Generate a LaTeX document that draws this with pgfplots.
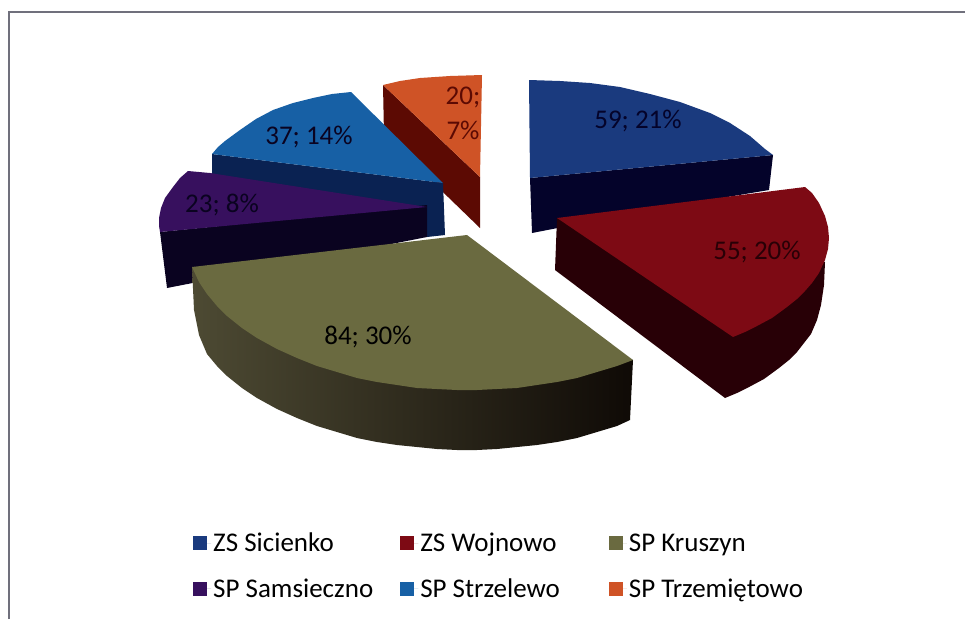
\documentclass[border=0pt]{standalone}
\usepackage{pgfplots}
\pgfplotsset{compat=1.18}
\usepackage{fontspec}
\setmainfont{Carlito}
\definecolor{cA}{HTML}{1A3A7E}\definecolor{sA}{HTML}{04032A}
\definecolor{cB}{HTML}{7D0A14}\definecolor{sB}{HTML}{280006}
\definecolor{cC}{HTML}{6A6A40}\definecolor{sCl}{HTML}{4D4A33}\definecolor{sCm}{HTML}{3D3626}\definecolor{sCr}{HTML}{0F0A06}
\definecolor{cD}{HTML}{37105E}\definecolor{sD}{HTML}{0A0320}
\definecolor{cE}{HTML}{1760A5}\definecolor{sE}{HTML}{0A2252}
\definecolor{cF}{HTML}{CF5326}\definecolor{sF}{HTML}{5C0A03}
\definecolor{frameC}{HTML}{70707C}
\begin{document}
\begin{tikzpicture}
\begin{axis}[
 width=965pt,height=619pt,scale only axis,
 xmin=0,xmax=965,ymin=0,ymax=619,y dir=reverse,
 hide axis,clip=true,
 legend columns=3,
 legend cell align=left,
 legend image code/.code={\fill[#1] (0pt,-7pt) rectangle (14pt,7pt);\path (0pt,0pt) -- (18pt,0pt);},
 legend style={at={(axis cs:193,531)},anchor=north west,draw=none,fill=none,
   font=\fontsize{27}{31}\selectfont,
   /tikz/column 2/.style={column sep=25pt},
   /tikz/column 4/.style={column sep=47pt},
   row sep=21pt,inner sep=0pt},
]
\addlegendimage{draw=none,fill=cA}\addlegendentry{ZS Sicienko}
\addlegendimage{draw=none,fill=cB}\addlegendentry{ZS Wojnowo}
\addlegendimage{draw=none,fill=cC}\addlegendentry{SP Kruszyn}
\addlegendimage{draw=none,fill=cD}\addlegendentry{SP Samsieczno}
\addlegendimage{draw=none,fill=cE}\addlegendentry{SP Strzelewo}
\addlegendimage{draw=none,fill=cF}\addlegendentry{SP Trzemiętowo}
% background and frame
\addplot[forget plot,draw=none,fill=white] coordinates {(0,0)(965,0)(965,619)(0,619)} --cycle;
\addplot[forget plot,draw=frameC,line width=2pt] coordinates {(9,619)(9,11.5)(965,11.5)};
% SP Trzemietowo
\addplot[forget plot,draw=none,fill=sF] coordinates {(383,85)(480,177)(480,228)(384,135)} --cycle;
\addplot[forget plot,draw=none,fill=cF] coordinates {(383,85)(400,81)(420,78)(450,76)(482,75)(480,177)} --cycle;
% SP Strzelewo
\addplot[forget plot,draw=none,fill=sE] coordinates {(212,154)(443,183)(445,235)(427,237)(212,190)} --cycle;
\addplot[forget plot,draw=none,fill=cE] coordinates {(351,92)(443,183)(212,154)(218,147)(225,141)(240,130)(256,119)(273,110)(293,103)(313,98)(332,94)} --cycle;
% SP Samsieczno
\addplot[forget plot,draw=none,fill=sD] coordinates {(160,232)(427,205)(427,237)(300,262)(167,288)} --cycle;
\addplot[forget plot,draw=none,fill=cD] coordinates {(188,171)(210,173)(427,207)(160,232)(159,226)(159,218)(161,208)(165,198)(173,187)(180,178)} --cycle;
% ZS Sicienko
\addplot[forget plot,draw=none,fill=sA] coordinates {(530,178)(773,155)(769,190)(650,210)(532,233)} --cycle;
\addplot[forget plot,draw=none,fill=cA] coordinates {(529,80)(560,81)(590,83)(620,87)(650,94)(680,102)(710,113)(730,123)(750,136)(765,149)(773,155)(530,178)} --cycle;
% ZS Wojnowo
\addplot[forget plot,draw=none,fill=sB] coordinates {(557,218)(555,270)(725,398)(737,393)(749,387)(764,379)(779,368)(789,360)(797,352)(804,343)(811,334)(817,320)(821,305)(824,285)(825,262)} --cycle;
\addplot[forget plot,draw=none,fill=cB] coordinates {(557,218)(805,187)(812,193)(819,203)(825,216)(828,227)(829,238)(828,249)(825,260)(819,273)(812,283)(805,291)(797,299)(787,307)(772,318)(757,326)(745,332)(733,337)} --cycle;
% SP Kruszyn
\addplot[forget plot,draw=none,left color=sCl,middle color=sCm,right color=sCr] coordinates {(192,267)(194,310)(199,335)(207,354)(217,366)(227,376)(242,388)(257,398)(277,409)(297,418)(317,426)(337,432)(357,438)(377,442)(397,445)(417,447)(437,449)(457,450)(477,450)(497,449)(517,447)(537,445)(557,442)(577,438)(597,432)(617,426)(630,420)(633,360)} --cycle;
\addplot[forget plot,draw=none,fill=cC] coordinates {(192,267)(467,235)(633,360)(617,366)(597,372)(577,378)(557,382)(537,385)(517,388)(497,389)(477,390)(457,390)(437,389)(417,388)(397,385)(377,382)(357,378)(337,372)(317,366)(297,358)(277,349)(257,338)(242,328)(227,316)(217,306)(207,294)(199,282)} --cycle;
% data labels
\node[font=\fontsize{27}{27}\selectfont,text=sA] at (axis cs:638,121) {59; 21\%};
\node[font=\fontsize{27}{27}\selectfont,text=sB] at (axis cs:757,252) {55; 20\%};
\node[font=\fontsize{27}{27}\selectfont,text=black] at (axis cs:368,337) {84; 30\%};
\node[font=\fontsize{27}{27}\selectfont,text=sD] at (axis cs:309,137) {37; 14\%};
\node[font=\fontsize{27}{27}\selectfont,text=sD] at (axis cs:222,205) {23; 8\%};
\node[font=\fontsize{27}{27}\selectfont,text=sF] at (axis cs:463,97) {20;};
\node[font=\fontsize{27}{27}\selectfont,text=sF] at (axis cs:463,130) {7\%};
\end{axis}
\end{tikzpicture}
\end{document}
